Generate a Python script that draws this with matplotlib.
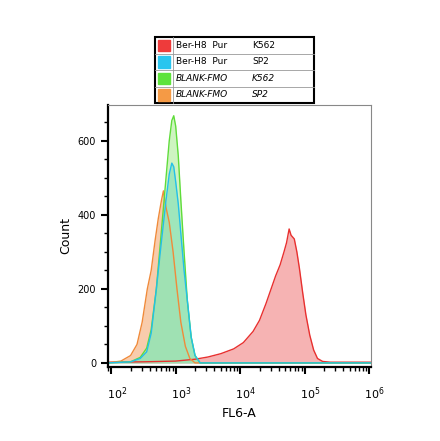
import numpy as np
import matplotlib
matplotlib.use("Agg")
import matplotlib.pyplot as plt
from matplotlib.patches import Rectangle
import matplotlib.transforms as mt

# data: log10(FL6-A) vs count
red_logx = [1.95, 2.5, 3.0, 3.3, 3.5, 3.7, 3.9, 4.05, 4.2, 4.3, 4.4, 4.48, 4.55, 4.62, 4.68, 4.72, 4.76, 4.79, 4.84, 4.88, 4.92, 4.97, 5.02, 5.08, 5.14, 5.2, 5.28, 5.4, 6.03]
red_y    = [2, 3, 5, 10, 16, 25, 38, 55, 85, 115, 160, 200, 235, 265, 300, 325, 362, 345, 335, 300, 255, 190, 130, 75, 35, 12, 4, 2, 2]
green_logx = [1.95, 2.3, 2.45, 2.55, 2.62, 2.7, 2.78, 2.85, 2.9, 2.94, 2.97, 3.0, 3.04, 3.08, 3.13, 3.18, 3.24, 3.3, 3.38, 6.03]
green_y    = [0, 3, 15, 40, 90, 200, 360, 500, 600, 655, 668, 640, 560, 440, 300, 170, 70, 20, 0, 0]
blue_logx = [1.95, 2.3, 2.45, 2.55, 2.62, 2.7, 2.78, 2.85, 2.9, 2.94, 2.97, 3.0, 3.04, 3.08, 3.13, 3.18, 3.24, 3.3, 3.38, 6.03]
blue_y    = [0, 3, 12, 30, 80, 200, 330, 440, 510, 540, 530, 490, 430, 350, 250, 170, 70, 20, 0, 0]
orange_logx = [1.95, 2.15, 2.3, 2.4, 2.48, 2.56, 2.62, 2.68, 2.73, 2.78, 2.81, 2.85, 2.9, 2.96, 3.02, 3.08, 3.15, 3.22, 3.3, 6.03]
orange_y    = [0, 5, 20, 50, 110, 200, 250, 330, 390, 440, 465, 420, 380, 300, 200, 110, 45, 12, 0, 0]

series = [
    ("Ber-H8  Pur", "K562", False, red_logx, red_y, "#e8302f", "#f4a0a0"),
    ("Ber-H8  Pur", "SP2", False, blue_logx, blue_y, "#22c0ea", "#7fd8f0"),
    ("BLANK-FMO", "K562", True, green_logx, green_y, "#5fdc3a", "#a6ec8e"),
    ("BLANK-FMO", "SP2", True, orange_logx, orange_y, "#f08a3a", "#f7c097"),
]

W, H = 440, 441
fig = plt.figure(figsize=(W/100, H/100), dpi=100)
ax = fig.add_axes([108/W, 1-367/H, (371-108)/W, (367-105)/H])

for i, a in [(0, 0.8), (3, 0.8), (1, 0.8), (2, 0.55)]:
    _, _, _, lx, y, lc, fc = series[i]
    x = 10**np.array(lx)
    ax.fill_between(x, y, color=fc, alpha=a, lw=0)
for i in [0, 3, 2, 1]:
    _, _, _, lx, y, lc, fc = series[i]
    ax.plot(10**np.array(lx), y, color=lc, lw=1.0)

ax.set_xscale("log")
ax.set_xlim(10**1.95, 10**6.03)
ax.set_ylim(-11, 697)
ax.set_yticks([0, 200, 400, 600])
ax.set_yticks(np.arange(0, 700, 50), minor=True)
ax.set_xticks([1e2, 1e3, 1e4, 1e5, 1e6])
ax.set_xticklabels([r"$10^2$", r"$10^3$", r"$10^4$", r"$10^5$", r"$10^6$"], fontsize=8)
ax.tick_params(axis="x", which="major", length=5, width=1.5, pad=8)
ax.tick_params(axis="x", which="minor", length=3, width=1)
ax.tick_params(axis="y", which="major", length=5, width=1.5, labelsize=7)
ax.tick_params(axis="y", which="minor", length=3, width=1)
offset = mt.ScaledTranslation(4/72, 0, fig.dpi_scale_trans)
for lbl in ax.get_xticklabels():
    lbl.set_transform(lbl.get_transform() + offset)
for s in ["left", "bottom"]:
    ax.spines[s].set_linewidth(1.6)
for s in ["top", "right"]:
    ax.spines[s].set_color("#888888")
    ax.spines[s].set_linewidth(0.8)
ax.set_xlabel("FL6-A", fontsize=9)
ax.set_ylabel("Count", fontsize=9)

# legend table
lx0, lx1, ly0, ly1 = 155, 314, 37, 103
rowh = (ly1 - ly0) / 4
sw = ["#ee3b3b", "#29c5ef", "#5ee33b", "#f59a45"]
tr = lambda px, py: (px / W, 1 - py / H)
fig.patches.append(Rectangle(tr(lx0, ly1), (lx1-lx0)/W, (ly1-ly0)/H, transform=fig.transFigure,
                             fill=False, ec="black", lw=1.5))
for i, (a, b, it, *_ ) in enumerate(series):
    ytop = ly0 + i*rowh
    if i > 0:
        fig.add_artist(plt.Line2D([lx0/W, lx1/W], [1-ytop/H]*2, color="#999999", lw=0.6))
    fig.patches.append(Rectangle(tr(158, ytop + rowh - 2.5), 12/W, (rowh-5)/H,
                                 transform=fig.transFigure, color=sw[i]))
    fig.add_artist(plt.Line2D([173/W]*2, [1-ytop/H, 1-(ytop+rowh)/H], color="#999999", lw=0.6))
    style = "italic" if it else "normal"
    fig.text(176/W, 1-(ytop+rowh/2)/H, a, fontsize=6.5, style=style, va="center")
    fig.text(252/W, 1-(ytop+rowh/2)/H, b, fontsize=6.5, style=style, va="center")

fig.savefig("out.png", dpi=100)
